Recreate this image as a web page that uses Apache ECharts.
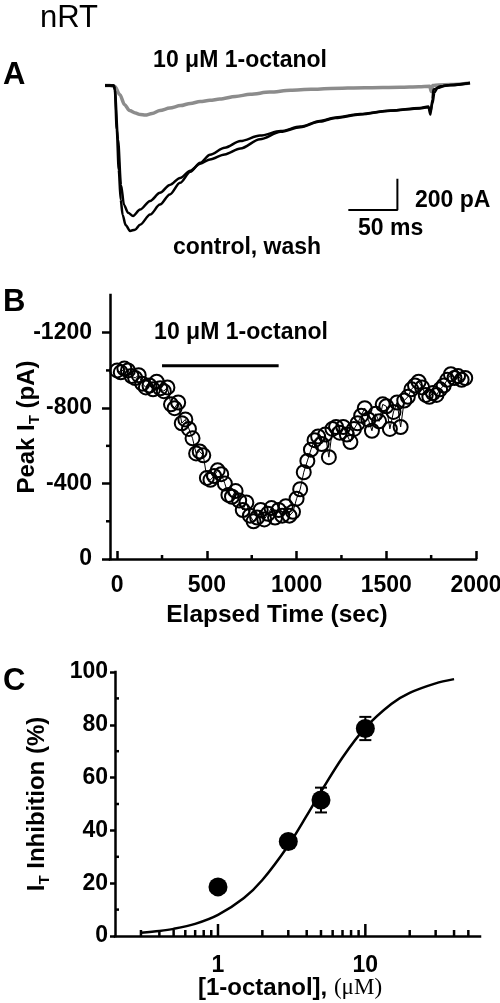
<!DOCTYPE html>
<html>
<head>
<meta charset="utf-8">
<script src="https://cdn.jsdelivr.net/npm/echarts@6.0.0/dist/echarts.min.js"></script>
<style>
html,body{margin:0;padding:0;background:#fff;}
#chart{width:500px;height:1003px;}
</style>
</head>
<body>
<div id="chart"></div>
<script>
// ---------- Panel A: current traces (time in ms, current in pA) ----------
const octanolTime = [0, 5, 10, 15, 20, 25, 31, 36, 41, 48, 56, 66, 77, 87, 97, 107, 117, 133, 148, 168, 189, 210, 230, 265, 301, 320, 331, 332.5, 334, 340, 352, 372];
const octanolCurrent = [0, 0, -6, -58, -123, -161, -177, -186, -190, -180, -161, -145, -129, -115, -103, -95, -87, -70, -56, -42, -30, -24, -19, -14, -11, -8, -5, -39, 0, 4, 6, 16];

const controlTime = [0, 9, 10, 12, 14, 16, 18, 21, 25.5, 30.6, 35.7, 46, 56, 66, 76.5, 87, 97, 107, 122, 138, 158, 179, 199, 219, 235, 260, 291, 321, 329.6, 331.6, 333.7, 334.7, 342, 352, 372];
const controlCurrent = [0, 0, -26, -284, -542, -735, -832, -897, -935, -927, -895, -830, -766, -701, -626, -555, -497, -445, -400, -357, -322, -293, -264, -228, -205, -183, -160, -144, -134, -187, -90, -26, -5, 3, 17];

const washTime = [0, 9, 10, 13.3, 16.3, 19.4, 23.5, 28.6, 35.7, 46, 56, 66, 76.5, 87, 97, 107, 122, 138, 158, 179, 199, 219, 235, 260, 291, 321, 329.6, 331.6, 333.7, 335.7, 338.8, 347, 372];
const washCurrent = [0, 0, -26, -348, -639, -768, -819, -839, -798, -742, -690, -639, -594, -548, -503, -475, -443, -405, -345, -298, -268, -232, -208, -186, -162, -147, -139, -168, -116, -45, -16, 0, 16];

// scale bar: 50 ms horizontal, 200 pA vertical
const scaleBarTime = [248, 298, 298];
const scaleBarCurrent = [-800, -800, -600];

// ---------- Panel B: peak I_T vs elapsed time ----------
const elapsedTime = [0,20,40,60,80,100,120,140,160,180,200,220,240,260,280,300,320,340,360,380,400,420,440,460,480,500,520,540,560,580,600,620,640,660,680,700,720,740,760,780,800,820,840,860,880,900,920,940,960,980,1000,1020,1040,1060,1080,1100,1120,1140,1160,1180,1200,1220,1240,1260,1280,1300,1320,1340,1360,1380,1400,1420,1440,1460,1480,1500,1520,1540,1560,1580,1600,1620,1640,1660,1680,1700,1720,1740,1760,1780,1800,1820,1840,1860,1880,1900,1920,1940];
const peakCurrent = [-1000,-990,-1010,-1000,-970,-960,-975,-930,-910,-920,-900,-940,-905,-890,-910,-820,-800,-830,-720,-740,-690,-640,-560,-570,-550,-430,-420,-440,-470,-450,-400,-340,-330,-360,-310,-260,-300,-230,-200,-220,-260,-210,-240,-270,-220,-260,-230,-280,-230,-250,-320,-370,-460,-520,-580,-630,-650,-610,-660,-540,-690,-700,-670,-700,-660,-620,-690,-720,-760,-800,-740,-680,-770,-730,-820,-810,-690,-780,-830,-700,-840,-860,-900,-920,-940,-910,-870,-860,-880,-870,-900,-920,-950,-980,-960,-970,-950,-960];
const applicationTime = [250, 900];
const applicationLevel = [-1025, -1025];
const bTickX = [0, 500, 1000, 1500, 2000];
const bMinorTickX = [250, 750, 1250, 1750];
const bTickY = [-1200, -800, -400, 0];
const bMinorTickY = [-1000, -600, -200];

// ---------- Panel C: concentration-response ----------
const concentration = [1, 3, 5, 10];
const inhibition = [18.6, 35.8, 51.5, 78.6];
const inhibitionSem = [1.5, 1.5, 4.7, 4.4];
const fitConcentration = [0.3, 0.4, 0.5, 0.7, 1, 1.5, 2, 3, 4, 5, 7, 10, 15, 20, 30, 40];
const fitInhibition = [1.2, 1.9, 2.7, 4.6, 8.0, 14.4, 21.2, 34.3, 45.6, 54.7, 67.6, 78.9, 87.9, 92.1, 95.7, 97.3];
const cMajorTickX = [1, 10];
const cMinorTickX = [0.3, 0.4, 0.5, 0.6, 0.7, 0.8, 0.9, 2, 3, 4, 5, 6, 7, 8, 9, 20, 30, 40, 50];
const cMinorTickY = [10, 30, 50, 70, 90];

// ---------- chart ----------
const FONT = '"Liberation Sans", Arial, Helvetica, sans-serif';
const SERIF = '"Liberation Serif", "Times New Roman", serif';
const boldText = {fontFamily: FONT, fontWeight: 'bold', fontSize: 23, color: '#000'};
const axisLine = {show: true, onZero: false, lineStyle: {color: '#000', width: 2.5, cap: 'square'}};
const tickLine = {color: '#000', width: 2.5};
const zip = (a, b) => a.map((v, i) => [v, b[i]]);

function tickSeries(xi, yi, data, dir, len) {
  return {
    type: 'custom', xAxisIndex: xi, yAxisIndex: yi, clip: false, silent: true, z: 5,
    data: data, encode: {x: 0, y: 1},
    renderItem: function (params, api) {
      const p = api.coord([api.value(0), api.value(1)]);
      let x2 = p[0], y2 = p[1];
      if (dir === 'up') y2 -= len;
      else if (dir === 'left') x2 -= len;
      else x2 += len;
      return {type: 'line', shape: {x1: p[0], y1: p[1], x2: x2, y2: y2},
              style: {stroke: '#000', lineWidth: 2.5}};
    }
  };
}

const chart = echarts.init(document.getElementById('chart'), null, {renderer: 'canvas'});
const option = {
  animation: false,
  backgroundColor: '#fff',
  grid: [
    {left: 105, right: 30, top: 70, height: 171, containLabel: false, outerBoundsMode: 'none'},
    {left: 110, right: 24, top: 295, height: 264, containLabel: false, outerBoundsMode: 'none'},
    {left: 115, right: 20, top: 672, height: 264, containLabel: false, outerBoundsMode: 'none'}
  ],
  xAxis: [
    {gridIndex: 0, type: 'value', min: 0, max: 372, show: false},
    {gridIndex: 1, type: 'value', min: -40, max: 2000,
     axisLine: axisLine,
     axisTick: {show: true, customValues: bTickX, inside: true, length: 8, lineStyle: tickLine},
     axisLabel: Object.assign({customValues: bTickX, margin: 15, formatter: v => String(v)}, boldText),
     splitLine: {show: false},
     name: 'Elapsed Time (sec)', nameLocation: 'middle', nameGap: 44, nameMoveOverlap: false,
     nameTextStyle: Object.assign({}, boldText, {fontSize: 24.5, padding: [0, 32, 0, 0]})},
    {gridIndex: 2, type: 'log', logBase: 10, min: 0.2, max: 60,
     axisLine: axisLine,
     axisTick: {show: false},
     minorTick: {show: false},
     axisLabel: Object.assign({showMinLabel: false, showMaxLabel: false, margin: 18, formatter: v => String(v)}, boldText),
     splitLine: {show: false}, minorSplitLine: {show: false},
     name: '{a|[1-octanol], }{b|(\u03bcM)}', nameLocation: 'middle', nameGap: 40, nameMoveOverlap: false,
     nameTextStyle: {padding: [0, 15, 0, 0], rich: {
       a: {fontFamily: FONT, fontWeight: 'bold', fontSize: 24, color: '#000'},
       b: {fontFamily: SERIF, fontWeight: 'normal', fontSize: 23, color: '#000'}
     }}}
  ],
  yAxis: [
    {gridIndex: 0, type: 'value', min: -1000, max: 100, show: false},
    {gridIndex: 1, type: 'value', min: -1400, max: 0, inverse: true,
     axisLine: axisLine,
     axisTick: {show: true, customValues: bTickY, length: 8, lineStyle: tickLine},
     axisLabel: Object.assign({customValues: bTickY, margin: 18, formatter: v => String(v)}, boldText),
     splitLine: {show: false},
     name: '{a|Peak I}{s|T}{a| (pA)}', nameLocation: 'middle', nameGap: 68, nameRotate: 90, nameMoveOverlap: false,
     nameTextStyle: {rich: {
       a: {fontFamily: FONT, fontWeight: 'bold', fontSize: 24, color: '#000', lineHeight: 30},
       s: {fontFamily: FONT, fontWeight: 'bold', fontSize: 15, color: '#000', verticalAlign: 'bottom'}
     }}},
    {gridIndex: 2, type: 'value', min: 0, max: 100, interval: 20,
     axisLine: axisLine,
     axisTick: {show: true, length: 5, lineStyle: tickLine},
     axisLabel: Object.assign({margin: 7, formatter: v => String(v)}, boldText),
     splitLine: {show: false},
     name: '{a|I}{s|T}{a| Inhibition (%)}', nameLocation: 'middle', nameGap: 63, nameRotate: 90, nameMoveOverlap: false,
     nameTextStyle: {rich: {
       a: {fontFamily: FONT, fontWeight: 'bold', fontSize: 24, color: '#000', lineHeight: 30},
       s: {fontFamily: FONT, fontWeight: 'bold', fontSize: 15, color: '#000', verticalAlign: 'bottom'}
     }}}
  ],
  series: [
    // Panel A
    {type: 'line', xAxisIndex: 0, yAxisIndex: 0, data: zip(octanolTime, octanolCurrent), showSymbol: false,
     smooth: 0.3, smoothMonotone: 'x', lineStyle: {color: '#8c8c8c', width: 3.5}, z: 2},
    {type: 'line', xAxisIndex: 0, yAxisIndex: 0, data: zip(controlTime, controlCurrent), showSymbol: false,
     smooth: 0.3, smoothMonotone: 'x', lineStyle: {color: '#000', width: 2.5}, z: 3},
    {type: 'line', xAxisIndex: 0, yAxisIndex: 0, data: zip(washTime, washCurrent), showSymbol: false,
     smooth: 0.3, smoothMonotone: 'x', lineStyle: {color: '#000', width: 2.5}, z: 3},
    {type: 'line', xAxisIndex: 0, yAxisIndex: 0, data: zip(scaleBarTime, scaleBarCurrent), showSymbol: false,
     lineStyle: {color: '#000', width: 2}, z: 3},
    // Panel B
    {type: 'line', xAxisIndex: 1, yAxisIndex: 1, data: zip(elapsedTime, peakCurrent),
     symbol: 'circle', symbolSize: 14, showSymbol: true,
     itemStyle: {color: 'rgba(0,0,0,0)', borderColor: '#000', borderWidth: 2},
     lineStyle: {color: '#000', width: 1}, z: 3},
    {type: 'line', xAxisIndex: 1, yAxisIndex: 1, data: zip(applicationTime, applicationLevel), showSymbol: false,
     lineStyle: {color: '#000', width: 3}, z: 3},
    tickSeries(1, 1, bMinorTickX.map(v => [v, 0]), 'up', 4),
    tickSeries(1, 1, bMinorTickY.map(v => [-40, v]), 'left', 4),
    // Panel C
    {type: 'line', xAxisIndex: 2, yAxisIndex: 2, data: zip(fitConcentration, fitInhibition), showSymbol: false,
     smooth: 0.3, lineStyle: {color: '#000', width: 2.5}, z: 2},
    {type: 'custom', xAxisIndex: 2, yAxisIndex: 2, z: 3, clip: false,
     data: concentration.map((c, i) => [c, inhibition[i] - inhibitionSem[i], inhibition[i] + inhibitionSem[i]]),
     encode: {x: 0, y: [1, 2]},
     renderItem: function (params, api) {
       const lo = api.coord([api.value(0), api.value(1)]);
       const hi = api.coord([api.value(0), api.value(2)]);
       const w = 6;
       const st = {stroke: '#000', lineWidth: 2};
       return {type: 'group', children: [
         {type: 'line', shape: {x1: lo[0], y1: lo[1], x2: hi[0], y2: hi[1]}, style: st},
         {type: 'line', shape: {x1: lo[0] - w, y1: lo[1], x2: lo[0] + w, y2: lo[1]}, style: st},
         {type: 'line', shape: {x1: hi[0] - w, y1: hi[1], x2: hi[0] + w, y2: hi[1]}, style: st}
       ]};
     }},
    {type: 'scatter', xAxisIndex: 2, yAxisIndex: 2, data: zip(concentration, inhibition),
     symbol: 'circle', symbolSize: 19, itemStyle: {color: '#000', opacity: 1}, z: 4},
    tickSeries(2, 2, cMajorTickX.map(v => [v, 0]), 'up', 12),
    tickSeries(2, 2, cMinorTickX.map(v => [v, 0]), 'up', 6),
    tickSeries(2, 2, cMinorTickY.map(v => [0.2, v]), 'right', 4)
  ],
  graphic: [
    {type: 'text', x: 40, y: 18, style: {text: 'nRT', fontFamily: FONT, fontSize: 31, fill: '#000', verticalAlign: 'middle'}},
    {type: 'text', x: 3, y: 75, style: {text: 'A', fontFamily: FONT, fontWeight: 'bold', fontSize: 31, fill: '#000', verticalAlign: 'middle'}},
    {type: 'text', x: 240, y: 61, style: {text: '10 \u03bcM 1-octanol', fontFamily: FONT, fontWeight: 'bold', fontSize: 23, fill: '#000', align: 'center', verticalAlign: 'middle'}},
    {type: 'text', x: 247, y: 248, style: {text: 'control, wash', fontFamily: FONT, fontWeight: 'bold', fontSize: 23, fill: '#000', align: 'center', verticalAlign: 'middle'}},
    {type: 'text', x: 415, y: 201, style: {text: '200 pA', fontFamily: FONT, fontWeight: 'bold', fontSize: 23, fill: '#000', verticalAlign: 'middle'}},
    {type: 'text', x: 358, y: 229, style: {text: '50 ms', fontFamily: FONT, fontWeight: 'bold', fontSize: 23, fill: '#000', verticalAlign: 'middle'}},
    {type: 'text', x: 3, y: 302, style: {text: 'B', fontFamily: FONT, fontWeight: 'bold', fontSize: 31, fill: '#000', verticalAlign: 'middle'}},
    {type: 'text', x: 241, y: 333, style: {text: '10 \u03bcM 1-octanol', fontFamily: FONT, fontWeight: 'bold', fontSize: 23, fill: '#000', align: 'center', verticalAlign: 'middle'}},
    {type: 'text', x: 3, y: 681, style: {text: 'C', fontFamily: FONT, fontWeight: 'bold', fontSize: 31, fill: '#000', verticalAlign: 'middle'}}
  ]
};
chart.setOption(option);
</script>
</body>
</html>
